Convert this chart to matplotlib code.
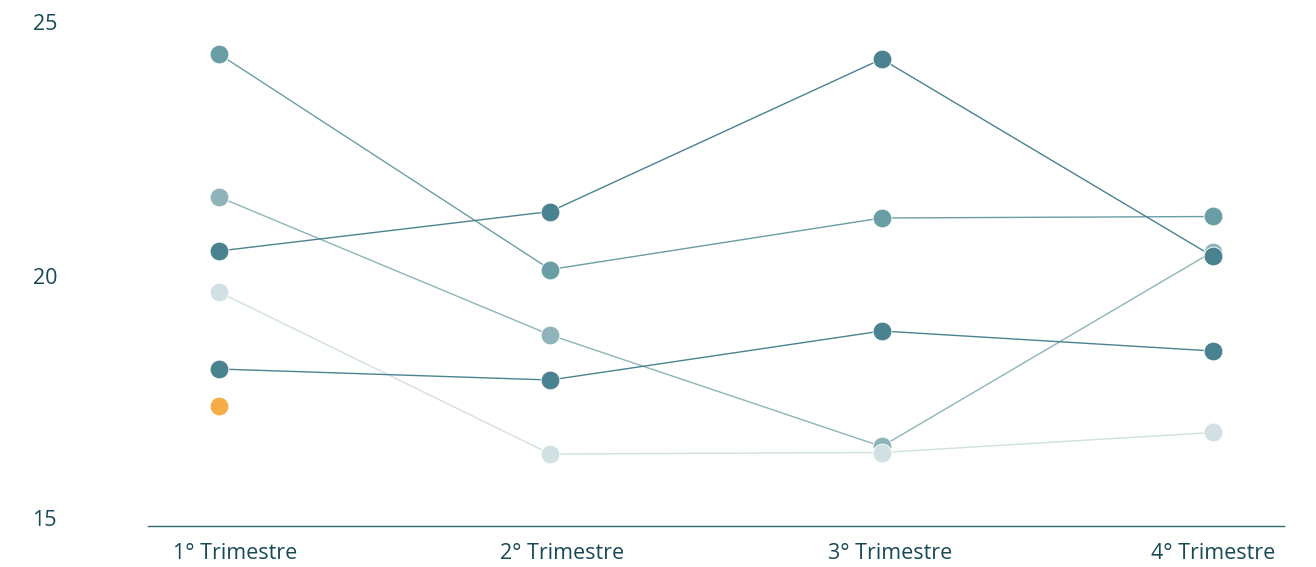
import matplotlib
matplotlib.use("Agg")
import matplotlib.pyplot as plt
from matplotlib.transforms import ScaledTranslation

categories = ["1° Trimestre", "2° Trimestre", "3° Trimestre", "4° Trimestre"]

series_a = [24.44, 20.13, 21.16, 21.19]
series_b = [20.50, 21.29, 24.34, 20.39]
series_c = [21.58, 18.82, 16.59, 20.49]
series_d = [18.14, 17.92, 18.90, 18.50]
series_e = [19.68, 16.44, 16.47, 16.87]
highlight_value = [17.40]

y_ticks = [15, 20, 25]

DARK = "#4a8290"
MED = "#6a9ea5"
LIGHT = "#8fb4ba"
VLIGHT = "#d0e0e3"
ORANGE = "#f6ad45"
TEXT = "#174a55"

plt.rcParams['font.family'] = ['Open Sans', 'DejaVu Sans']

fig = plt.figure(figsize=(13.16, 5.67), dpi=100)
W, H = 1316, 567
left, right, top, bottom = 148, 1284, 26, 526
ax = fig.add_axes([left / W, (H - bottom) / H, (right - left) / W, (bottom - top) / H])

x = list(range(len(categories)))
order = [(series_c, LIGHT), (series_e, VLIGHT), (series_a, MED), (series_d, DARK), (series_b, DARK)]
for vals, col in order:
    ax.plot(x, vals, color=col, lw=1.0, zorder=1)
for vals, col in order:
    ax.plot(x, vals, ls='none', marker='o', ms=13.5, mfc=col, mec='white', mew=0.6, zorder=3)
ax.plot([0], highlight_value, ls='none', marker='o', ms=13.5, mfc=ORANGE, mec='white', mew=0.6, zorder=3)

ax.set_xlim(-0.214, 3.214)
ax.set_ylim(15, 25)

for s in ['top', 'right', 'left']:
    ax.spines[s].set_visible(False)
ax.spines['bottom'].set_color("#2f6772")
ax.spines['bottom'].set_linewidth(1.0)

ax.set_yticks(y_ticks)
ax.set_yticklabels([str(v) for v in y_ticks], fontsize=15.5, color=TEXT, fontweight='medium')
ax.tick_params(axis='y', length=0, pad=65.5)
ax.set_xticks(x)
ax.set_xticklabels(categories, fontsize=15.5, color=TEXT, fontweight='medium')
ax.tick_params(axis='x', length=0, pad=12)

offs = [16, 12, 8, 0]
for lab, o in zip(ax.get_xticklabels(), offs):
    lab.set_transform(lab.get_transform() + ScaledTranslation(o / 100, 0, fig.dpi_scale_trans))
yoffs = [8, 0, 4]
for lab, o in zip(ax.get_yticklabels(), yoffs):
    lab.set_transform(lab.get_transform() + ScaledTranslation(0, o / 100, fig.dpi_scale_trans))

fig.savefig("out.png", dpi=100)
